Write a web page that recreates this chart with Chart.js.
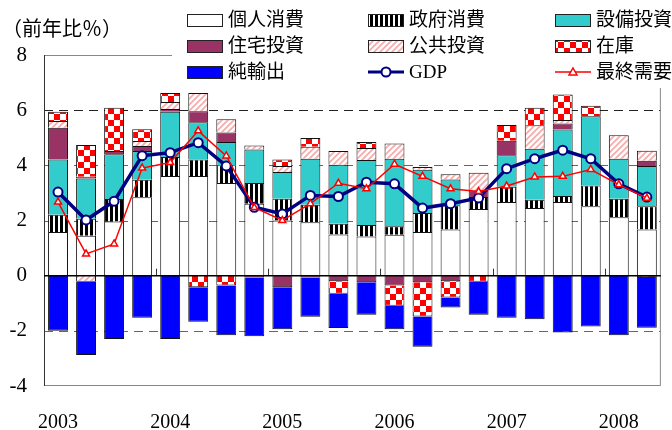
<!DOCTYPE html>
<html>
<head>
<meta charset="utf-8">
<script src="https://cdn.jsdelivr.net/npm/chart.js@4.4.0/dist/chart.umd.min.js"></script>
<style>
  html, body { margin: 0; padding: 0; background: #fff; }
  #wrap { width: 672px; height: 430px; }
</style>
</head>
<body>
<div id="wrap"><canvas id="chart" width="672" height="430"></canvas></div>
<script>
// 四半期（2003年I期〜2008年II期）
const quarters = [
  "2003Q1", "2003Q2", "2003Q3", "2003Q4",
  "2004Q1", "2004Q2", "2004Q3", "2004Q4",
  "2005Q1", "2005Q2", "2005Q3", "2005Q4",
  "2006Q1", "2006Q2", "2006Q3", "2006Q4",
  "2007Q1", "2007Q2", "2007Q3", "2007Q4",
  "2008Q1", "2008Q2"
];
const yTicks = [-4, -2, 0, 2, 4, 6, 8];

// 寄与度（前年比%）
const kojinShohi  = [1.58, 1.45, 1.96, 2.84, 3.61, 3.61, 3.36, 2.61, 2.00, 1.94, 1.49, 1.42, 1.48, 1.58, 1.67, 2.42, 2.67, 2.45, 2.67, 2.52, 2.12, 1.67];
const seifuShohi  = [0.63, 0.61, 0.82, 0.64, 0.69, 0.60, 0.64, 0.75, 0.79, 0.63, 0.39, 0.42, 0.31, 0.69, 0.88, 0.43, 0.55, 0.30, 0.22, 0.75, 0.67, 0.85];
const setsubiToshi = [2.00, 1.46, 1.62, 1.04, 1.64, 1.35, 0.85, 1.21, 0.97, 1.67, 2.14, 2.35, 2.45, 1.57, 0.94, 0.00, 1.15, 1.85, 2.41, 2.51, 1.45, 1.46];
const jutakuToshi = [1.15, 0.07, 0.12, 0.18, 0.10, 0.40, 0.34, -0.07, -0.42, -0.07, -0.20, -0.24, -0.36, -0.24, -0.20, 0.24, 0.52, 0.00, 0.22, 0.00, 0.00, 0.19];
const kokyoToshi  = [0.25, -0.22, 0.00, 0.18, 0.26, 0.66, 0.48, 0.15, 0.22, 0.43, 0.50, 0.44, 0.55, 0.10, 0.19, 0.64, 0.00, 0.85, 0.12, 0.00, 0.85, 0.36];
const zaiko       = [0.33, 1.15, 1.57, 0.43, 0.32, -0.42, -0.36, 0.00, 0.23, 0.32, -0.46, 0.22, -0.73, -1.24, -0.59, -0.22, 0.57, 0.64, 0.93, 0.38, 0.00, -0.05];
const junYushutsu = [-2.00, -2.66, -2.30, -1.53, -2.30, -1.25, -1.80, -2.13, -1.52, -1.42, -1.24, -1.18, -0.85, -1.10, -0.36, -1.20, -1.53, -1.58, -2.06, -1.84, -2.16, -1.84];
const gdp         = [3.03, 2.02, 2.70, 4.35, 4.46, 4.82, 3.98, 2.48, 2.24, 2.91, 2.87, 3.39, 3.33, 2.45, 2.61, 2.82, 3.88, 4.24, 4.55, 4.24, 3.33, 2.85];
const saishuJuyo  = [2.67, 0.79, 1.15, 3.90, 4.10, 5.25, 4.34, 2.47, 2.00, 2.61, 3.35, 3.15, 4.04, 3.60, 3.15, 3.05, 3.25, 3.58, 3.60, 3.85, 3.30, 2.81];

const FONT = '"Liberation Serif", "Noto Sans CJK JP", serif';

// 塗りパターン
function makePattern(kind) {
  const c = document.createElement("canvas");
  const g = c.getContext("2d");
  if (kind === "stripe") {
    c.width = 5; c.height = 5;
    g.fillStyle = "#fff"; g.fillRect(0, 0, 5, 5);
    g.fillStyle = "#000"; g.fillRect(0, 0, 3, 5);
  } else if (kind === "hatch") {
    c.width = 6; c.height = 6;
    g.fillStyle = "#fff"; g.fillRect(0, 0, 6, 6);
    g.strokeStyle = "#f7a8a8"; g.lineWidth = 1.6;
    g.beginPath();
    g.moveTo(0, 6); g.lineTo(6, 0);
    g.moveTo(-3, 3); g.lineTo(3, -3);
    g.moveTo(3, 9); g.lineTo(9, 3);
    g.stroke();
  } else {
    c.width = 12; c.height = 12;
    g.fillStyle = "#fff"; g.fillRect(0, 0, 12, 12);
    g.fillStyle = "#ff0000";
    g.fillRect(0, 0, 6, 6); g.fillRect(6, 6, 6, 6);
  }
  return g.createPattern(c, "repeat");
}

const ctx = document.getElementById("chart").getContext("2d");
const stripe = makePattern("stripe");
const hatch = makePattern("hatch");
const checker = makePattern("checker");

const barBase = { type: "bar", stack: "a", borderColor: "#111", borderWidth: 1, order: 2 };

// グリッド・枠
const framePlugin = {
  id: "frame",
  beforeDatasetsDraw(chart) {
    const { ctx, chartArea: a, scales: { x, y } } = chart;
    ctx.save();
    ctx.lineWidth = 1;
    ctx.setLineDash([9, 6]);
    [6, 4, 2, -2].forEach(v => {
      const py = Math.round(y.getPixelForValue(v)) + 0.5;
      ctx.strokeStyle = v === 6 ? "#222" : "#666";
      ctx.beginPath(); ctx.moveTo(a.left, py); ctx.lineTo(a.right, py); ctx.stroke();
    });
    ctx.setLineDash([]);
    ctx.strokeStyle = "#888";
    ctx.strokeRect(a.left + 0.5, a.top + 0.5, a.right - a.left - 1, a.bottom - a.top - 1);
    ctx.strokeStyle = "#333";
    ctx.beginPath(); ctx.moveTo(a.left + 0.5, a.top); ctx.lineTo(a.left + 0.5, a.bottom); ctx.stroke();
    // 年の区切り
    for (let i = 4; i < quarters.length; i += 4) {
      const px = Math.round((x.getPixelForValue(i - 1) + x.getPixelForValue(i)) / 2) + 0.5;
      const zy = y.getPixelForValue(0);
      ctx.beginPath(); ctx.moveTo(px, zy - 7); ctx.lineTo(px, zy); ctx.stroke();
    }
    ctx.restore();
  },
  afterDatasetsDraw(chart) {
    const { ctx, chartArea: a, scales: { y } } = chart;
    ctx.save();
    ctx.strokeStyle = "#000";
    ctx.lineWidth = 1.5;
    const zy = y.getPixelForValue(0);
    ctx.beginPath(); ctx.moveTo(a.left, zy); ctx.lineTo(a.right, zy); ctx.stroke();
    ctx.restore();
  }
};

// 凡例と単位
const legendPlugin = {
  id: "legendBox",
  afterDraw(chart) {
    const c = chart.ctx;
    c.save();
    c.fillStyle = "#fff";
    c.fillRect(172, 0, 500, 88);
    c.font = "20px " + FONT;
    c.fillStyle = "#000";
    c.textBaseline = "middle";
    c.fillText("（前年比％）", 2, 31);

    c.font = "19px " + FONT;
    const cols = [187, 368, 555];
    const rows = [20, 46, 72];
    const items = [
      ["個人消費", "#fff"], ["政府消費", stripe], ["設備投資", "#33cccc"],
      ["住宅投資", "#993366"], ["公共投資", hatch], ["在庫", checker],
      ["純輸出", "#0000ff"], ["GDP", "gdp"], ["最終需要", "fd"]
    ];
    items.forEach((it, i) => {
      const bx = cols[i % 3];
      const by = rows[Math.floor(i / 3)];
      if (it[1] === "gdp") {
        c.strokeStyle = "#000080"; c.lineWidth = 3;
        c.beginPath(); c.moveTo(bx, by); c.lineTo(bx + 36, by); c.stroke();
        c.fillStyle = "#fff"; c.lineWidth = 2;
        c.beginPath(); c.arc(bx + 18, by, 4.5, 0, Math.PI * 2); c.fill(); c.stroke();
      } else if (it[1] === "fd") {
        c.strokeStyle = "#ff0000"; c.lineWidth = 1.5;
        c.beginPath(); c.moveTo(bx, by); c.lineTo(bx + 36, by); c.stroke();
        c.fillStyle = "#fff";
        c.beginPath(); c.moveTo(bx + 18, by - 4); c.lineTo(bx + 22, by + 3); c.lineTo(bx + 14, by + 3); c.closePath();
        c.fill(); c.stroke();
      } else {
        c.fillStyle = it[1];
        c.fillRect(bx, by - 6, 35, 13);
        c.strokeStyle = "#222"; c.lineWidth = 1;
        c.strokeRect(bx + 0.5, by - 5.5, 35, 12);
      }
      c.fillStyle = "#000";
      c.fillText(it[0], bx + 41, by + 1);
    });
    c.restore();
  }
};

new Chart(ctx, {
  data: {
    labels: quarters,
    datasets: [
      { ...barBase, label: "個人消費", data: kojinShohi, backgroundColor: "#fff" },
      { ...barBase, label: "政府消費", data: seifuShohi, backgroundColor: stripe },
      { ...barBase, label: "設備投資", data: setsubiToshi, backgroundColor: "#33cccc" },
      { ...barBase, label: "住宅投資", data: jutakuToshi, backgroundColor: "#993366" },
      { ...barBase, label: "公共投資", data: kokyoToshi, backgroundColor: hatch },
      { ...barBase, label: "在庫", data: zaiko, backgroundColor: checker },
      { ...barBase, label: "純輸出", data: junYushutsu, backgroundColor: "#0000ff" },
      {
        type: "line", label: "GDP", data: gdp, stack: "g", order: 1,
        borderColor: "#000080", borderWidth: 3.5, pointRadius: 4.5,
        pointBackgroundColor: "#fff", pointBorderColor: "#000080", pointBorderWidth: 2
      },
      {
        type: "line", label: "最終需要", data: saishuJuyo, stack: "f", order: 0,
        borderColor: "#ff0000", borderWidth: 1.5, pointStyle: "triangle", pointRadius: 4,
        pointBackgroundColor: "#fff", pointBorderColor: "#ff0000", pointBorderWidth: 1.5
      }
    ]
  },
  options: {
    responsive: false,
    animation: false,
    devicePixelRatio: 1,
    layout: { padding: { top: 55, right: 7, left: 0, bottom: 0 } },
    datasets: { bar: { barPercentage: 0.71, categoryPercentage: 1 } },
    plugins: { legend: { display: false }, tooltip: { enabled: false } },
    scales: {
      x: {
        stacked: true,
        grid: { display: false, drawTicks: false },
        border: { display: false },
        afterFit: s => { s.height = 44; },
        ticks: {
          autoSkip: false, maxRotation: 0, padding: 25, color: "#000",
          font: { family: FONT, size: 20 },
          callback: (v, i) => quarters[i].endsWith("Q1") ? quarters[i].slice(0, 4) : ""
        }
      },
      y: {
        stacked: true,
        min: yTicks[0], max: yTicks[yTicks.length - 1],
        grid: { display: false, drawTicks: false },
        border: { display: false },
        afterFit: s => { s.width = 44; },
        afterBuildTicks: s => { s.ticks = yTicks.map(v => ({ value: v })); },
        ticks: { padding: 17, color: "#000", font: { family: FONT, size: 21 } }
      }
    }
  },
  plugins: [framePlugin, legendPlugin]
});
</script>
</body>
</html>
